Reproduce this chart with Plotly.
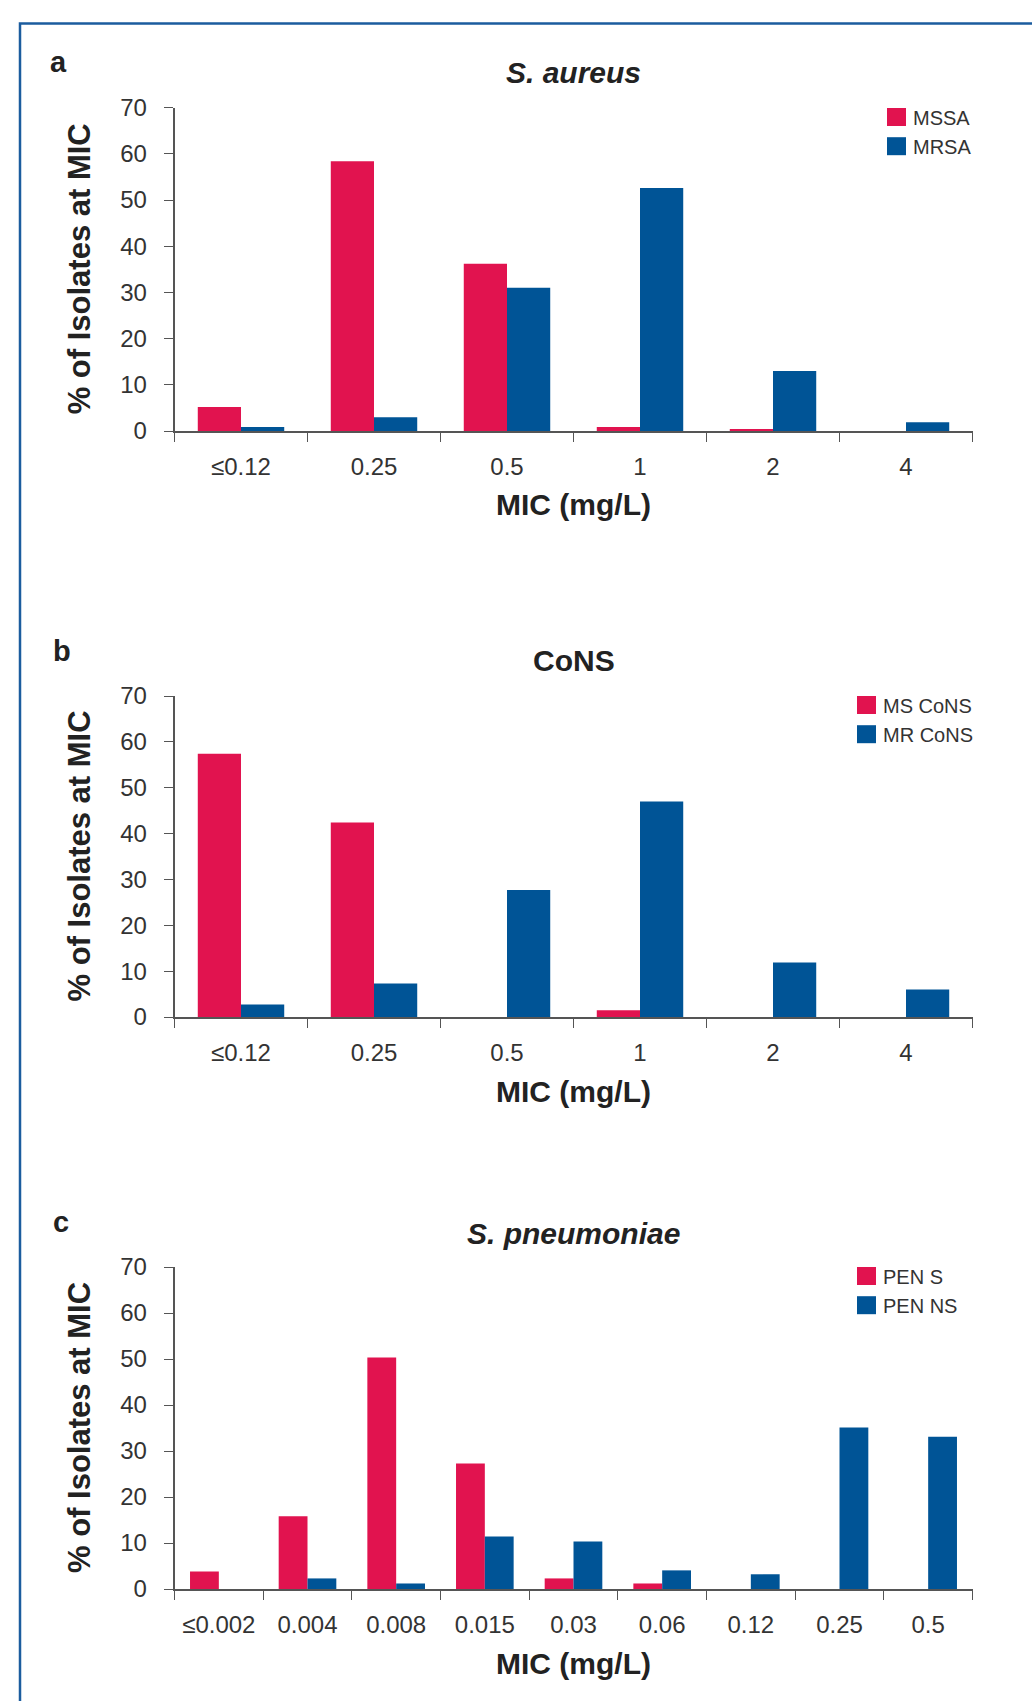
import plotly.graph_objects as go

# ---- data ----
cats_a = ["≤0.12", "0.25", "0.5", "1", "2", "4"]
mssa = [5.2, 58.4, 36.2, 0.85, 0.45, 0]
mrsa = [0.85, 3.0, 31.0, 52.6, 13.0, 1.9]

cats_b = ["≤0.12", "0.25", "0.5", "1", "2", "4"]
ms_cons = [57.4, 42.4, 0, 1.45, 0, 0]
mr_cons = [2.75, 7.3, 27.7, 47.0, 11.9, 6.0]

cats_c = ["≤0.002", "0.004", "0.008", "0.015", "0.03", "0.06", "0.12", "0.25", "0.5"]
pen_s = [3.8, 15.8, 50.3, 27.3, 2.3, 1.2, 0, 0, 0]
pen_ns = [0, 2.3, 1.2, 11.4, 10.3, 4.05, 3.2, 35.1, 33.1]

RED = "#E1134F"
BLUE = "#005496"
FONT = "Liberation Sans, Arial, sans-serif"
W, H = 1032, 1701

panels = [
    dict(cats=cats_a, s=[("MSSA", mssa, RED), ("MRSA", mrsa, BLUE)], top=107.7, bot=431,
         title="<b><i>S. aureus</i></b>", letter="a", lx=58, ly=62, ty=73, legx=887, legy=108, mic=505),
    dict(cats=cats_b, s=[("MS CoNS", ms_cons, RED), ("MR CoNS", mr_cons, BLUE)], top=696, bot=1017,
         title="<b>CoNS</b>", letter="b", lx=62, ly=651, ty=661, legx=857, legy=696, mic=1091),
    dict(cats=cats_c, s=[("PEN S", pen_s, RED), ("PEN NS", pen_ns, BLUE)], top=1267, bot=1589,
         title="<b><i>S. pneumoniae</i></b>", letter="c", lx=61, ly=1222, ty=1233, legx=857, legy=1267, mic=1663),
]

X0, X1 = 174.5, 972.5
fig = go.Figure()
annotations = []
shapes = []

def px(x):
    return x / W

def py(y):
    return 1 - y / H

for i, p in enumerate(panels, start=1):
    xa = "x" if i == 1 else f"x{i}"
    ya = "y" if i == 1 else f"y{i}"
    for name, vals, col in p["s"]:
        fig.add_trace(go.Bar(x=p["cats"], y=vals, name=name, marker=dict(color=col, line=dict(width=0)),
                             xaxis=xa, yaxis=ya, showlegend=False))
    key = "" if i == 1 else str(i)
    fig.layout["xaxis" + key] = dict(
        domain=[px(X0), px(X1)], anchor=ya, type="category", tickson="boundaries", automargin=False,
        ticks="outside", ticklen=9, tickcolor="#555", showline=True, linecolor="#555", linewidth=1.5,
        tickfont=dict(family=FONT, size=24, color="#333"), ticklabelstandoff=13,
        showgrid=False, zeroline=False, fixedrange=True)
    fig.layout["yaxis" + key] = dict(
        domain=[py(p["bot"]), py(p["top"])], anchor=xa, range=[0, 70], dtick=10, automargin=False,
        ticks="outside", ticklen=9, tickcolor="#555", showline=True, linecolor="#555", linewidth=1.5,
        tickfont=dict(family=FONT, size=24, color="#333"), ticklabelstandoff=12,
        showgrid=False, zeroline=False, fixedrange=True)
    cx = px((X0 + X1) / 2)
    annotations += [
        dict(text=p["title"], x=cx, y=py(p["ty"]), xref="paper", yref="paper", showarrow=False,
             font=dict(family=FONT, size=30, color="#222"), xanchor="center", yanchor="middle"),
        dict(text="<b>" + p["letter"] + "</b>", x=px(p["lx"]), y=py(p["ly"]), xref="paper", yref="paper",
             showarrow=False, font=dict(family=FONT, size=29, color="#222"), xanchor="center", yanchor="middle"),
        dict(text="<b>MIC (mg/L)</b>", x=cx, y=py(p["mic"]), xref="paper", yref="paper", showarrow=False,
             font=dict(family=FONT, size=30, color="#222"), xanchor="center", yanchor="middle"),
        dict(text="<b>% of Isolates at MIC</b>", x=px(79), y=py((p["top"] + p["bot"]) / 2), xref="paper",
             yref="paper", showarrow=False, textangle=-90,
             font=dict(family=FONT, size=31, color="#222"), xanchor="center", yanchor="middle"),
    ]
    # legend swatches and labels
    for j, (name, vals, col) in enumerate(p["s"]):
        y0 = p["legy"] + j * 29.2
        shapes.append(dict(type="rect", xref="paper", yref="paper", x0=px(p["legx"]), x1=px(p["legx"] + 19),
                           y0=py(y0 + 18), y1=py(y0), fillcolor=col, line=dict(width=0)))
        annotations.append(dict(text=name, x=px(p["legx"] + 24), y=py(y0 + 9.5), xref="paper", yref="paper",
                                showarrow=False, xanchor="left", yanchor="middle",
                                font=dict(family=FONT, size=20, color="#333")))

# outer frame
shapes.append(dict(type="rect", xref="paper", yref="paper", x0=px(20), x1=1.05, y0=-0.05, y1=py(23.5),
                   line=dict(color="#1B5C9E", width=2.5), fillcolor="rgba(0,0,0,0)", layer="below"))

fig.update_layout(width=W, height=H, margin=dict(l=0, r=0, t=0, b=0, pad=0, autoexpand=False), autosize=False,
                  paper_bgcolor="white", plot_bgcolor="white", barmode="group", bargap=0.35, bargroupgap=0,
                  annotations=annotations, shapes=shapes, showlegend=False)

fig.write_html("out.html", config=dict(displayModeBar=False),
               post_script="document.body.style.margin='0';document.body.style.padding='0';"
                           "document.body.style.overflow='hidden';")
